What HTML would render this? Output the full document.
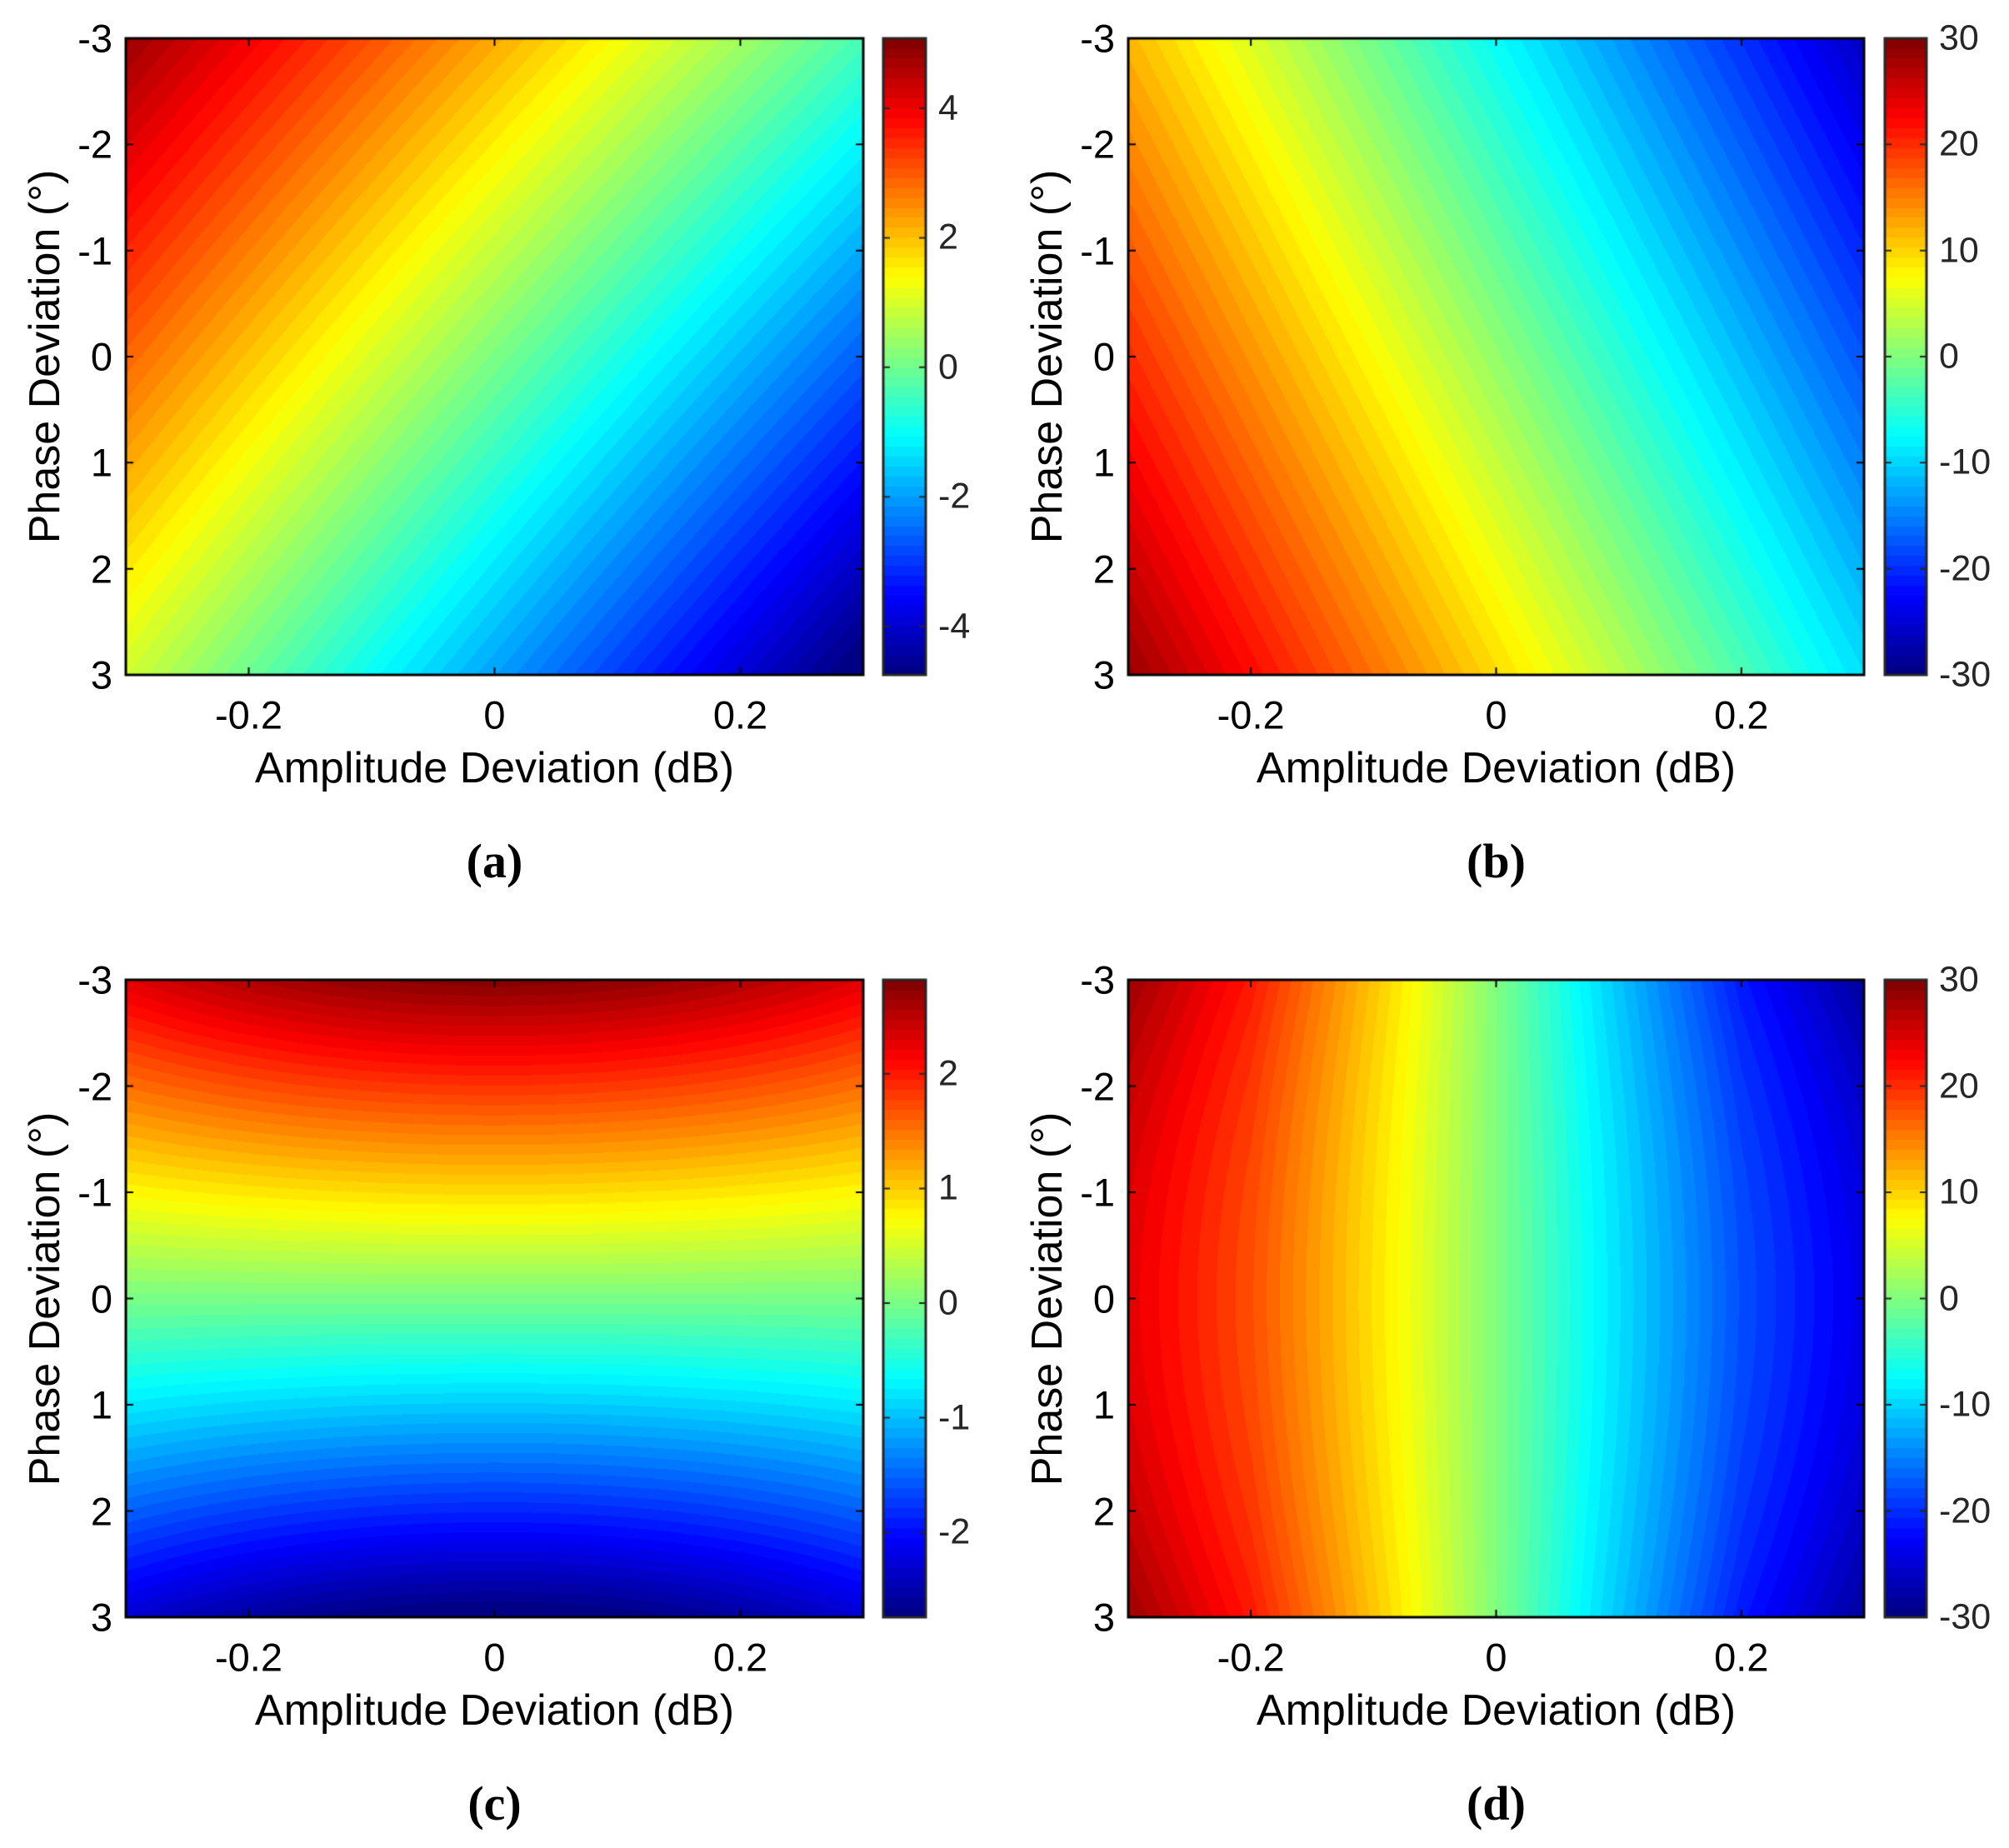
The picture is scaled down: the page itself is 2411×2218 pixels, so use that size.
<!DOCTYPE html>
<html><head><meta charset="utf-8"><style>
body{margin:0;background:#fff;width:2411px;height:2218px;position:relative;overflow:hidden;font-family:"Liberation Sans",Arial,sans-serif;}
canvas{position:absolute;left:0;top:0}
.t{position:absolute;white-space:nowrap;color:#000;line-height:1}
.tk{font-size:47px}
.cb{font-size:43px;color:#262626}
.xl{font-size:52px}
.pl{font-family:"Liberation Serif",serif;font-weight:bold;font-size:58px}
</style></head><body>
<canvas id="c" width="2411" height="2218"></canvas>
<div id="txt"></div>
<script>
const cv=document.getElementById('c'),ctx=cv.getContext('2d');
function cl(v){return Math.max(0,Math.min(1,v));}
function jet(t){return [cl(1.5-Math.abs(4*t-3)),cl(1.5-Math.abs(4*t-2)),cl(1.5-Math.abs(4*t-1))].map(v=>Math.round(v*255));}
function interp(x,xs,ys){const s=x<0?-1:1;x=Math.abs(x);for(let i=1;i<xs.length;i++){if(x<=xs[i]){return s*(ys[i-1]+(ys[i]-ys[i-1])*(x-xs[i-1])/(xs[i]-xs[i-1]));}}return s*ys[ys.length-1];}
const P=[
{L:151,R:1036,T:46,B:810,c0:1060,c1:1111,vmin:-4.75,vmax:5.08,ticks:[-4,-2,0,2,4],
 f:(x,y)=>-9.2*x-0.7*y+0.125-0.6*x*y*0.3,lab:'(a)'},
{L:1354,R:2237,T:46,B:810,c0:2262,c1:2312,vmin:-30,vmax:30,ticks:[-30,-20,-10,0,10,20,30],
 f:(x,y)=>-63*x+2.8*y+1.2,lab:'(b)'},
{L:151,R:1036,T:1176,B:1941,c0:1060,c1:1111,vmin:-2.74,vmax:2.82,ticks:[-2,-1,0,1,2],
 f:(x,y)=>-0.93*y*(1-2*x*x),lab:'(c)'},
{L:1354,R:2237,T:1176,B:1941,c0:2262,c1:2312,vmin:-30,vmax:30,ticks:[-30,-20,-10,0,10,20,30],
 f:(x,y)=>-interp(x,[0,0.08,0.2,0.3],[0,7.5,18,24])*(1+0.18*(y/3)*(y/3)),lab:'(d)'}
];
let html='';
function T(x,y,cls,s,al,rot){let tr=al==='c'?'translate(-50%,-50%)':al==='r'?'translate(-100%,-50%)':'translate(0,-50%)';if(rot)tr+=' rotate(-90deg)';html+=`<div class="t ${cls}" style="left:${x}px;top:${y}px;transform:${tr}">${s}</div>`;}
const N=64;
P.forEach(p=>{
 const W=p.R-p.L,H=p.B-p.T;
 const img=ctx.createImageData(W,H);
 for(let j=0;j<H;j++){const y=-3+6*(j+0.5)/H;
  for(let i=0;i<W;i++){const x=-0.3+0.6*(i+0.5)/W;
   let t=(p.f(x,y)-p.vmin)/(p.vmax-p.vmin);t=Math.max(0,Math.min(0.9999,t));
   t=(Math.floor(t*N)+0.5)/N;const c=jet(t);const k=4*(j*W+i);
   img.data[k]=c[0];img.data[k+1]=c[1];img.data[k+2]=c[2];img.data[k+3]=255;}}
 ctx.putImageData(img,p.L,p.T);
 ctx.strokeStyle='#000';ctx.lineWidth=3;ctx.strokeRect(p.L,p.T,W,H);
 ctx.lineWidth=2;
 [-3,-2,-1,0,1,2,3].forEach(v=>{const y=p.T+(v+3)/6*H;ctx.beginPath();ctx.moveTo(p.L,y);ctx.lineTo(p.L+9,y);ctx.moveTo(p.R,y);ctx.lineTo(p.R-9,y);ctx.stroke();
  T(p.L-16,y,'tk',String(v),'r');});
 [-0.2,0,0.2].forEach(v=>{const x=p.L+(v+0.3)/0.6*W;ctx.beginPath();ctx.moveTo(x,p.B);ctx.lineTo(x,p.B-9);ctx.moveTo(x,p.T);ctx.lineTo(x,p.T+9);ctx.stroke();
  T(x,p.B+48,'tk',String(v),'c');});
 const cw=p.c1-p.c0;
 for(let s=0;s<N;s++){const y0=p.B-(s+1)*H/N,c=jet((s+0.5)/N);ctx.fillStyle=`rgb(${c})`;ctx.fillRect(p.c0,Math.floor(y0),cw,Math.ceil(H/N)+1);}
 ctx.strokeStyle='#262626';ctx.lineWidth=3;ctx.strokeRect(p.c0,p.T,cw,H);ctx.lineWidth=2;
 p.ticks.forEach(v=>{const y=p.B-(v-p.vmin)/(p.vmax-p.vmin)*H;ctx.beginPath();ctx.moveTo(p.c1,y);ctx.lineTo(p.c1-8,y);ctx.moveTo(p.c0,y);ctx.lineTo(p.c0+8,y);ctx.stroke();
  T(p.c1+15,y,'cb',String(v),'l');});
 const cx=(p.L+p.R)/2;
 T(cx,p.B+112,'xl','Amplitude Deviation (dB)','c');
 T(p.L-97,(p.T+p.B)/2,'xl','Phase Deviation (°)','c',true);
 T(cx,p.B+224,'pl',p.lab,'c');
});
document.getElementById('txt').innerHTML=html;
</script>
</body></html>
